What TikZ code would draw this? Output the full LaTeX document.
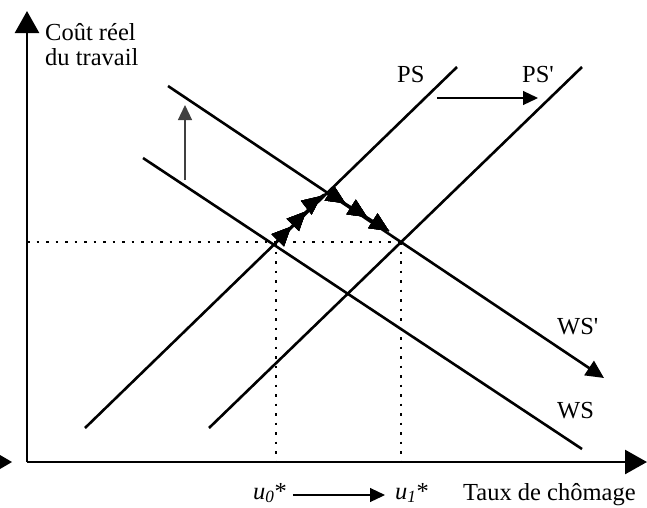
\documentclass[tikz,border=0pt]{standalone}
\usepackage{fontspec}
\setmainfont{Liberation Serif}[Ligatures=TeXOff]
\usetikzlibrary{arrows.meta,decorations.markings}
\tikzset{
  curve/.style={line width=2.6pt},
  axis/.style={line width=2.6pt,-{Triangle[length=22pt,width=24pt]}},
  thinarrow/.style={line width=1.2pt,-{Triangle[length=15pt,width=14pt]}},
  dots/.style={line width=2.2pt,dash pattern=on 2.5pt off 7pt},
  lab/.style={font=\fontsize{24.5}{27}\selectfont,inner sep=0pt,anchor=base west},
  markarrow/.style={decoration={markings,
     mark=at position #1 with {\arrow{Triangle[length=19pt,width=17pt]}}},postaction={decorate}}
}
\begin{document}
\begin{tikzpicture}[x=1pt,y=-1pt]
\useasboundingbox (0,0) rectangle (647,507);
% stray arrowhead at the left
\fill (0,455) -- (12,462) -- (0,469) -- cycle;
% axes
\coordinate (O) at (27,462);
\coordinate (Ytop) at (27,11);
\coordinate (Xend) at (647,462);
\draw[axis] (O) -- (Ytop);
\draw[axis] (O) -- (Xend);
% curves
\coordinate (PSa) at (85,428);  \coordinate (PSb) at (457,67);
\coordinate (PSpa) at (209,428); \coordinate (PSpb) at (582,67);
\coordinate (WSa) at (143,158); \coordinate (WSb) at (582,449);
\coordinate (WSpa) at (168,86); \coordinate (WSpb) at (604,378);
\draw[curve] (PSa) -- (PSb);
\draw[curve] (PSpa) -- (PSpb);
\draw[curve] (WSa) -- (WSb);
\draw[curve,-{Triangle[length=18pt,width=17pt]}] (WSpa) -- (WSpb);
% equilibria
\coordinate (E0) at (276,242);
\coordinate (E1) at (401,242);
\coordinate (Yl) at (27,242);
\coordinate (U0) at (276,462);
\coordinate (U1) at (401,462);
\draw[dots] (Yl) -- (E1);
\draw[dots] (E0) -- (U0);
\draw[dots] (E1) -- (U1);
% shift arrows
\coordinate (Va) at (185,180); \coordinate (Vb) at (185,105);
\draw[thinarrow,draw=black!75] (Va) -- (Vb);
\coordinate (Ha) at (437,98); \coordinate (Hb) at (538,98);
\draw[thinarrow] (Ha) -- (Hb);
% adjustment path
\coordinate (Pk) at (326,191);
\coordinate (Pe) at (389,231);
\draw[line width=1.8pt,rounded corners=8pt,
  markarrow=0.15,markarrow=0.30,markarrow=0.45,markarrow=0.64,markarrow=0.82,markarrow=1]
  (E0) -- (Pk) -- (Pe);
% labels
\node[lab] (l1) at (45,40) {Coût réel};
\node[lab] (l2) at (45,65) {du travail};
\node[lab] (ps) at (397,82) {PS};
\node[lab] (psp) at (522,82) {PS'};
\node[lab] (wsp) at (557,334) {WS'};
\node[lab] (ws) at (557,418) {WS};
\node[lab] (u0) at (253,499) {\textit{u}\textsubscript{\textit{0}}*};
\node[lab] (u1) at (395,499) {\textit{u}\textsubscript{\textit{1}}*};
\node[lab] (tx) at (463,500) {Taux de chômage};
\draw[thinarrow] ([xshift=6pt]u0.east |- 0,495) -- ([xshift=-10pt]u1.west |- 0,495);
\end{tikzpicture}
\end{document}
